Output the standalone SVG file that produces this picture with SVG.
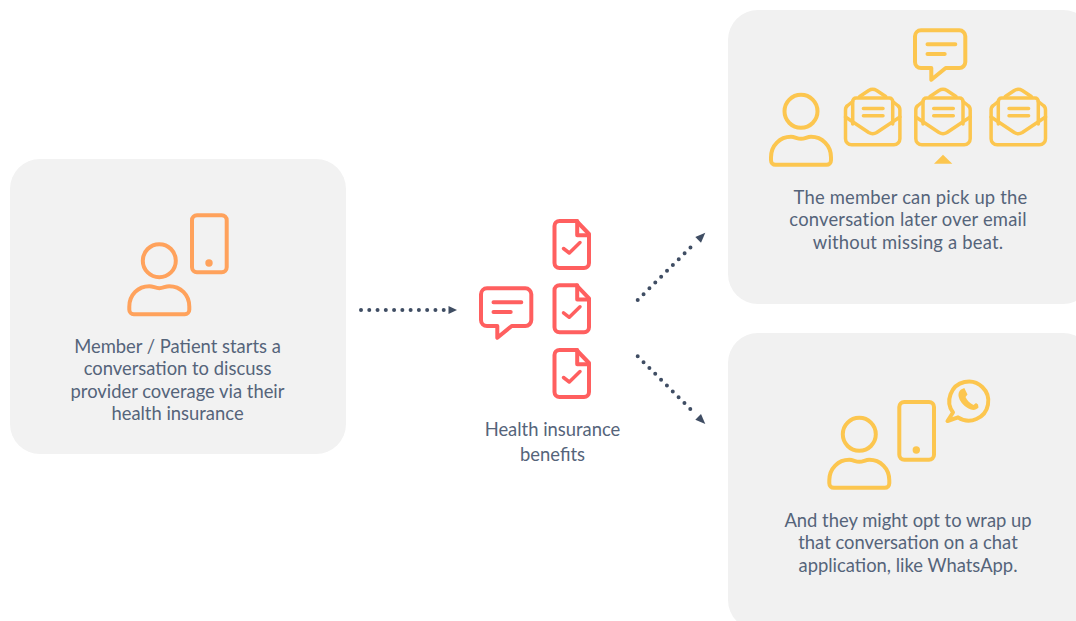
<svg xmlns="http://www.w3.org/2000/svg" width="1076" height="621" viewBox="0 0 1076 621">
<style>
.panel{fill:#f2f2f2}
.panelr{fill:#f1f1f1}
.ic{fill:none;stroke-width:4;stroke-linecap:round;stroke-linejoin:round}
.thin{stroke-width:3.5}
.or{stroke:#ffa25c}.rd{stroke:#ff5f5f}.yl{stroke:#fcc64f}
.ordot{fill:#ffa25c}.yldot{fill:#fcc64f}
text{font-family:"Lato","Liberation Sans",sans-serif;font-size:18.4px;fill:#55647a;text-anchor:middle}
.sp{letter-spacing:.2px}
.conn{fill:none;stroke:#3f4d63;stroke-width:4;stroke-linecap:round;stroke-dasharray:0 8.27}
.head{fill:#3f4d63}
</style>
<defs>
<g id="person"><circle cx="0" cy="0" r="16.5"/><path d="M-25.500 53.500H25.500A4.500 4.500 0 0 0 30 49V46C30 34 21 25.500 10 25.500C6 25.500 4 27.500 0 27.500C-4 27.500-6 25.500-10 25.500C-21 25.500-30 34-30 46V49A4.500 4.500 0 0 0-25.500 53.500Z"/></g>
<g id="doc"><path d="M6 2H23L35.500 15V44A5 5 0 0 1 30.500 49H6A5 5 0 0 1 1 44V7A5 5 0 0 1 6 2Z"/><path d="M23.700 2V16.300H35.500"/><path stroke-width="3.500" d="M10 29.500L15.800 34L26.500 23.500"/></g>
<g id="chat"><path d="M8 2H46.300A6 6 0 0 1 52.300 8V33.700A6 6 0 0 1 46.300 39.700H32.700L18.300 51.400V39.700H8A6 6 0 0 1 2 33.700V8A6 6 0 0 1 8 2Z"/><path d="M14.500 16H42.300M14.500 25.700H31.700"/></g>
<g id="env"><path d="M-27.200 20V48.700A6 6 0 0 0-21.200 54.700H21.200A6 6 0 0 0 27.200 48.700V20C27.200 18 26.500 16.500 25 15.500L20 11.500M-20 11.500L-25 15.500C-26.500 16.500-27.200 18-27.200 20M-13 6.500L-4 0.500C-1.500-1 1.500-1 4 0.500L13 6.500"/><path d="M-20 34V11.300A3.300 3.300 0 0 1-16.700 8H16.700A3.300 3.300 0 0 1 20 11.300V34"/><path d="M-27.200 27L-4 42.500C-1.500 44 1.500 44 4 42.500L27.200 27"/><path d="M-9.300 18.500H10.300M-9.300 25.800H10.300"/></g>
</defs>

<g id="member-panel">
<rect class="panel" x="10" y="159" width="336" height="295" rx="30"/>
<use href="#person" class="ic or" x="159.300" y="260.700"/>
<rect class="ic or" x="192" y="215.300" width="34.700" height="57" rx="5"/>
<circle class="ordot" cx="209" cy="263" r="3.700"/>
<text x="177.500" y="353">Member / Patient starts a</text>
<text x="177.500" y="375">conversation to discuss</text>
<text x="177.500" y="398">provider coverage via their</text>
<text x="177.500" y="420">health insurance</text>
</g>

<g id="benefits">
<use href="#chat" class="ic rd" x="479" y="286.300"/>
<use href="#doc" class="ic rd" x="553.500" y="219"/>
<use href="#doc" class="ic rd" x="553.500" y="283.300"/>
<use href="#doc" class="ic rd" x="553.500" y="348"/>
<text x="552.500" y="436">Health insurance</text>
<text x="552.500" y="461">benefits</text>
</g>

<g id="email-panel">
<rect class="panelr" x="728" y="10" width="365" height="294" rx="30"/>
<use href="#chat" class="ic yl" x="913" y="28.300"/>
<use href="#person" class="ic yl" x="801" y="111.300"/>
<use href="#env" class="ic thin yl" x="872.700" y="90"/>
<use href="#env" class="ic thin yl" x="943" y="90"/>
<use href="#env" class="ic thin yl" x="1018.300" y="90"/>
<path class="yldot" d="M934 163.700L943 154.700L952.300 163.700Z"/>
<text class="sp" x="910.500" y="204">The member can pick up the</text>
<text class="sp" x="908" y="226">conversation later over email</text>
<text class="sp" x="908" y="249">without missing a beat.</text>
</g>

<g id="whatsapp-panel">
<rect class="panelr" x="728" y="333" width="365" height="297" rx="30"/>
<use href="#person" class="ic yl" x="859.300" y="434.300"/>
<rect class="ic yl" x="899.300" y="402" width="34.700" height="57.700" rx="5"/>
<circle class="yldot" cx="916.300" cy="450" r="3.700"/>
<path class="ic yl" d="M953 412.500L947.500 421L958 417.300A19.500 19.500 0 1 0 953 412.500Z"/>
<path class="yldot" d="M961 389.500L964.300 388L967.500 394.500L965.500 397C967 400.500 970 403.500 973.500 405L976 403L978 404.500L978.500 407.500C976 410.500 972 410.500 968.500 408.500C963 405.500 959.500 401 958.500 396C958.300 393 959 391 961 389.500Z"/>
<text x="908" y="527">And they might opt to wrap up</text>
<text x="908" y="549">that conversation on a chat</text>
<text x="908" y="572">application, like WhatsApp.</text>
</g>

<g id="connectors">
<path class="conn" d="M361 310H446"/>
<path class="head" d="M448.500 306L457 310L448.500 314Z"/>
<path class="conn" d="M637.700 300L696 242"/>
<path class="head" d="M695.300 237L705.300 232.700L701 242.700Z"/>
<path class="conn" d="M637.700 356.300L696 414.700"/>
<path class="head" d="M701 414L705.300 424L695.300 419.700Z"/>
</g>
</svg>
